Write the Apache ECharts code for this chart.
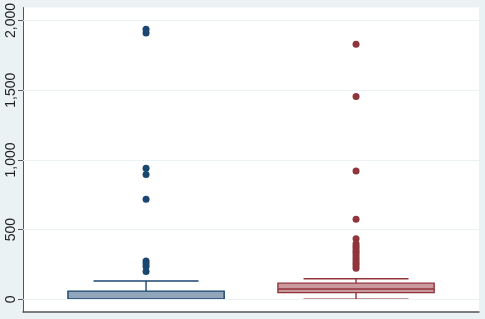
<!DOCTYPE html>
<html>
<head>
<meta charset="utf-8">
<script src="https://cdn.jsdelivr.net/npm/echarts@6/dist/echarts.min.js"></script>
<style>
html,body{margin:0;padding:0;background:#eaf2f3;}
#chart{width:485px;height:319px;}
</style>
</head>
<body>
<div id="chart"></div>
<script>
// Group positions on x
var groups = [1, 2];
// Box stats: [lower whisker, Q1, median, Q3, upper whisker]
var boxBlue = [0, 0, 0, 59, 131];
var boxRed = [0, 48, 74, 116, 148];
// Outliers
var outBlue = [1937, 1910, 940, 895, 718, 275, 255, 235, 200];
var outRed = [1830, 1455, 920, 575, 435, 398, 380, 362, 345, 328, 310, 292, 275, 258, 240, 222];
// Y ticks
var yTicks = [0, 500, 1000, 1500, 2000];

var colors = ['#1a476f', '#90353b'];
var fills = ['#91a5bb', '#c9999d'];

function boxRender(params, api) {
  var x = api.value(0);
  var lo = api.value(1), q1 = api.value(2), med = api.value(3), q3 = api.value(4), hi = api.value(5);
  var idx = params.dataIndex;
  var bw = 0.372, cw = 0.25;
  var pL = api.coord([x - bw, q3]);
  var pR = api.coord([x + bw, q1]);
  var c = colors[idx];
  var style = {stroke: c, lineWidth: 1.4, fill: null};
  var children = [];
  var pHi = api.coord([x, hi]), pQ3 = api.coord([x, q3]);
  var pLo = api.coord([x, lo]), pQ1 = api.coord([x, q1]);
  var cl = api.coord([x - cw, hi]), cr = api.coord([x + cw, hi]);
  var ll = api.coord([x - cw, lo]), lr = api.coord([x + cw, lo]);
  children.push({type: 'line', shape: {x1: pHi[0], y1: pHi[1], x2: pQ3[0], y2: pQ3[1]}, style: style});
  children.push({type: 'line', shape: {x1: cl[0], y1: cl[1], x2: cr[0], y2: cr[1]}, style: style});
  if (lo < q1) {
    children.push({type: 'line', shape: {x1: pLo[0], y1: pLo[1], x2: pQ1[0], y2: pQ1[1]}, style: style});
    children.push({type: 'line', shape: {x1: ll[0], y1: ll[1], x2: lr[0], y2: lr[1]}, style: style});
  }
  children.push({type: 'rect', shape: {x: pL[0], y: pL[1], width: pR[0] - pL[0], height: pR[1] - pL[1]},
    style: {fill: fills[idx], stroke: c, lineWidth: 1.4}});
  var ml = api.coord([x - bw, med]), mr = api.coord([x + bw, med]);
  children.push({type: 'line', shape: {x1: ml[0], y1: ml[1], x2: mr[0], y2: mr[1]}, style: style});
  return {type: 'group', children: children};
}

var boxData = [
  [groups[0]].concat(boxBlue),
  [groups[1]].concat(boxRed)
];

var chart = echarts.init(document.getElementById('chart'));
chart.setOption({
  backgroundColor: '#eaf2f3',
  animation: false,
  grid: {left: 23, right: 6, top: 7, bottom: 7, show: true, backgroundColor: '#ffffff', borderWidth: 0},
  xAxis: {
    type: 'value', min: 0.414, max: 2.5855,
    axisLine: {show: true, onZero: false, lineStyle: {color: '#555', width: 1.5}},
    axisTick: {show: false}, axisLabel: {show: false}, splitLine: {show: false}
  },
  yAxis: {
    type: 'value', min: -91, max: 2093,
    axisLine: {show: true, onZero: false, lineStyle: {color: '#555', width: 1}},
    axisTick: {show: true, length: 5, customValues: yTicks, lineStyle: {color: '#555'}},
    axisLabel: {
      show: true, rotate: 90, margin: 5, customValues: yTicks,
      fontFamily: 'Liberation Sans', fontSize: 14, color: '#222',
      formatter: function (v) { return v.toLocaleString('en-US'); }
    },
    splitLine: {show: false}
  },
  series: [
    {
      type: 'line', data: [], silent: true,
      markLine: {
        silent: true, symbol: 'none', label: {show: false},
        lineStyle: {color: '#eaf2f3', width: 1, type: 'solid'},
        data: yTicks.map(function (t) { return {yAxis: t}; })
      }
    },
    {
      type: 'custom', renderItem: boxRender, data: boxData,
      encode: {x: 0, y: [1, 2, 3, 4, 5]}
    },
    {
      type: 'scatter', symbolSize: 7, itemStyle: {color: colors[0], opacity: 1},
      data: outBlue.map(function (v) { return [groups[0], v]; })
    },
    {
      type: 'scatter', symbolSize: 7, itemStyle: {color: colors[1], opacity: 1},
      data: outRed.map(function (v) { return [groups[1], v]; })
    }
  ]
});
</script>
</body>
</html>
